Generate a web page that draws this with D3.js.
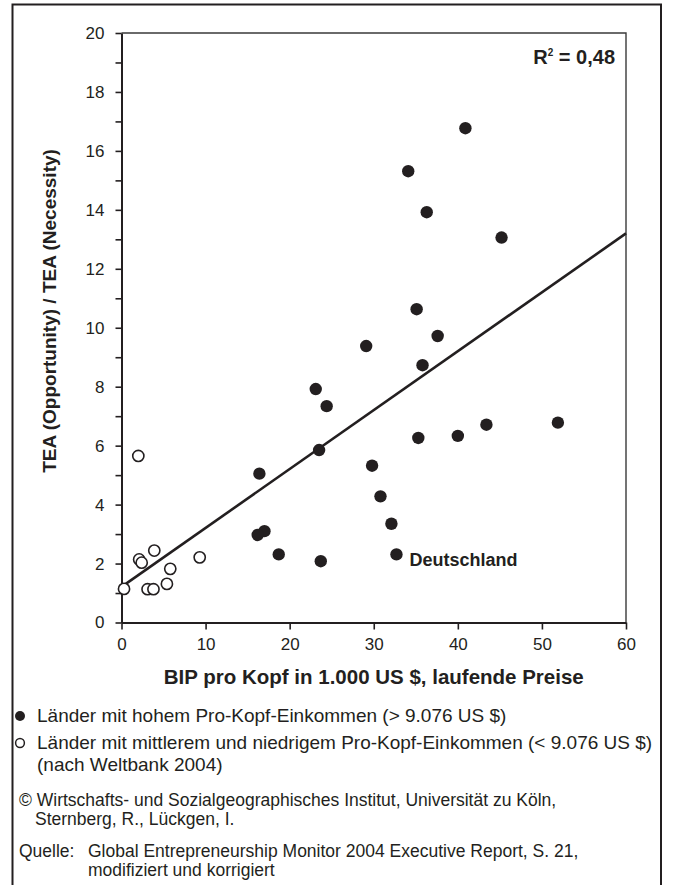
<!DOCTYPE html>
<html>
<head>
<meta charset="utf-8">
<script src="https://cdn.jsdelivr.net/npm/d3@7"></script>
<style>
  body { margin: 0; background: #fff; }
  text { font-family: "Liberation Sans", Arial, sans-serif; fill: #231f20; }
</style>
</head>
<body>
<div id="chart"></div>
<script>
// data
var highX = [40.9, 34.1, 36.3, 45.2, 35.1, 37.6, 29.1, 35.8, 23.1, 24.4, 51.9, 43.4, 40.0, 35.3, 23.5, 16.4, 29.8, 30.8, 32.1, 17.0, 16.2, 18.7, 23.7, 32.7];
var highY = [16.77, 15.31, 13.92, 13.06, 10.63, 9.72, 9.38, 8.73, 7.92, 7.34, 6.78, 6.71, 6.33, 6.26, 5.85, 5.05, 5.32, 4.28, 3.35, 3.10, 2.97, 2.31, 2.08, 2.31];
var lowX = [0.3, 2.1, 2.4, 3.9, 5.8, 3.1, 3.8, 5.4, 9.3, 2.0];
var lowY = [1.14, 2.14, 2.03, 2.44, 1.82, 1.13, 1.13, 1.31, 2.21, 5.65];
var trendX = [0, 60];
var trendY = [1.21, 13.2];
var xTicks = [0, 10, 20, 30, 40, 50, 60];
var yTicks = d3.range(0, 21, 1);
var labelCountry = "Deutschland";
var labelIndex = 23;

var ink = "#231f20";

//Set dimensions
var W = 673, H = 885;

var svg = d3.select("#chart").append("svg")
    .attr("width", W)
    .attr("height", H);

// outer frame (open at the bottom)
svg.append("rect")
    .attr("x", 12.5).attr("y", 4.5)
    .attr("width", 648.5).attr("height", H + 20)
    .attr("fill", "none")
    .attr("stroke", ink)
    .attr("stroke-width", 2);

var x = d3.scaleLinear().domain([0, 60]).range([121.5, 626]);
var y = d3.scaleLinear().domain([0, 20]).range([622.5, 33]);

// top and right border of the plot
svg.append("path")
    .attr("d", "M" + x(0) + "," + y(20) + "H" + x(60) + "V" + y(0))
    .attr("fill", "none")
    .attr("stroke", "#3a3a3a")
    .attr("stroke-width", 1.4);

// axes
var yAxis = d3.axisLeft(y)
    .tickValues(yTicks)
    .tickSize(6)
    .tickSizeOuter(0)
    .tickPadding(11)
    .tickFormat(function(d) { return d % 2 == 0 ? d : ""; });

var xAxis = d3.axisBottom(x)
    .tickValues(xTicks)
    .tickSize(7)
    .tickSizeOuter(0)
    .tickPadding(8);

var gy = svg.append("g")
    .attr("transform", "translate(" + x(0) + ",0)")
    .call(yAxis);

var gx = svg.append("g")
    .attr("transform", "translate(0," + y(0) + ")")
    .call(xAxis);

[gx, gy].forEach(function(g) {
  g.select(".domain").attr("stroke", ink).attr("stroke-width", 2);
  g.selectAll(".tick line").attr("stroke", ink).attr("stroke-width", 1.6);
  g.selectAll(".tick text")
    .attr("fill", ink)
    .style("font-size", "17px")
    .style("font-family", "'Liberation Sans', Arial, sans-serif");
});

// axis titles
svg.append("text")
    .attr("x", (x(0) + x(60)) / 2)
    .attr("y", 684)
    .attr("text-anchor", "middle")
    .style("font-size", "20.5px")
    .style("font-weight", "bold")
    .text("BIP pro Kopf in 1.000 US $, laufende Preise");

svg.append("text")
    .attr("transform", "translate(56,311) rotate(-90)")
    .attr("text-anchor", "middle")
    .style("font-size", "19px")
    .style("font-weight", "bold")
    .text("TEA (Opportunity) / TEA (Necessity)");

// trend line
svg.append("line")
    .attr("x1", x(trendX[0])).attr("y1", y(trendY[0]))
    .attr("x2", x(trendX[1])).attr("y2", y(trendY[1]))
    .attr("stroke", ink)
    .attr("stroke-width", 2.6);

// points
var high = highX.map(function(v, i) { return {x: v, y: highY[i]}; });
var low = lowX.map(function(v, i) { return {x: v, y: lowY[i]}; });

svg.selectAll(".low")
    .data(low)
    .enter().append("circle")
      .attr("class", "low")
      .attr("cx", function(d) { return x(d.x); })
      .attr("cy", function(d) { return y(d.y); })
      .attr("r", 5.6)
      .attr("fill", "#fff")
      .attr("stroke", ink)
      .attr("stroke-width", 1.6);

svg.selectAll(".high")
    .data(high)
    .enter().append("circle")
      .attr("class", "high")
      .attr("cx", function(d) { return x(d.x); })
      .attr("cy", function(d) { return y(d.y); })
      .attr("r", 6.2)
      .attr("fill", ink);

// Deutschland label
svg.append("text")
    .attr("x", x(high[labelIndex].x) + 13)
    .attr("y", y(high[labelIndex].y) + 12)
    .style("font-size", "18px")
    .style("font-weight", "bold")
    .text(labelCountry);

// R squared
var r2 = svg.append("text")
    .attr("x", 615)
    .attr("y", 64)
    .attr("text-anchor", "end")
    .style("font-size", "20px")
    .style("font-weight", "bold");
r2.append("tspan").text("R");
r2.append("tspan").attr("dy", -8).style("font-size", "10px").text("2");
r2.append("tspan").attr("dy", 8).text(" = 0,48");

// legend
svg.append("circle")
    .attr("cx", 20).attr("cy", 716).attr("r", 5)
    .attr("fill", ink);
svg.append("circle")
    .attr("cx", 20).attr("cy", 743).attr("r", 4.4)
    .attr("fill", "#fff")
    .attr("stroke", ink)
    .attr("stroke-width", 1.5);

var notes = [
  {x: 37, y: 722, size: 19, t: "Länder mit hohem Pro-Kopf-Einkommen (> 9.076 US $)"},
  {x: 37, y: 749, size: 19, t: "Länder mit mittlerem und niedrigem Pro-Kopf-Einkommen (< 9.076 US $)"},
  {x: 37, y: 771, size: 19, t: "(nach Weltbank 2004)"},
  {x: 19, y: 806, size: 17.5, t: "© Wirtschafts- und Sozialgeographisches Institut, Universität zu Köln,"},
  {x: 35, y: 825, size: 17.5, t: "Sternberg, R., Lückgen, I."},
  {x: 19, y: 857, size: 17.5, t: "Quelle:"},
  {x: 88, y: 857, size: 17.5, t: "Global Entrepreneurship Monitor 2004 Executive Report, S. 21,"},
  {x: 88, y: 876, size: 17.5, t: "modifiziert und korrigiert"}
];

svg.selectAll(".note")
    .data(notes)
    .enter().append("text")
      .attr("class", "note")
      .attr("x", function(d) { return d.x; })
      .attr("y", function(d) { return d.y; })
      .style("font-size", function(d) { return d.size + "px"; })
      .text(function(d) { return d.t; });
</script>
</body>
</html>
